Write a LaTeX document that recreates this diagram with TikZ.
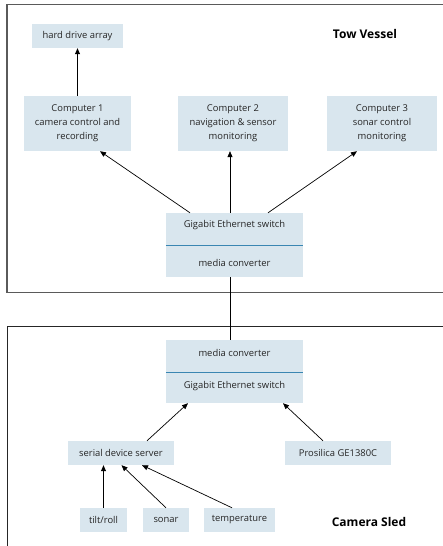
\documentclass[tikz,border=0pt]{standalone}
\usepackage{fontspec}
\setmainfont{Open Sans}
\usetikzlibrary{arrows.meta}
\definecolor{boxfill}{HTML}{D9E6EE}
\definecolor{divline}{HTML}{3A86B2}
\definecolor{framegray}{HTML}{5A5A5A}
\tikzset{
  box/.style={fill=boxfill, inner sep=0pt, align=center, font=\fontsize{9.4}{14}\selectfont, text=black!85},
  boxtext/.style={font=\fontsize{9.4}{12}\selectfont, text=black!85},
  conn/.style={draw=black, line width=0.7pt, -{Triangle[length=6pt,width=5pt]}},
  plain/.style={draw=black, line width=0.7pt},
  label/.style={font=\bfseries\fontsize{12}{14}\selectfont},
}
\begin{document}
\begin{tikzpicture}[x=1pt,y=-1pt]
\useasboundingbox (0,0) rectangle (442,546);
% frames
\draw[framegray, line width=1.8pt] (445,4.5) -- (7,4.5) -- (7,292.5) -- (445,292.5);
\draw[black!85, line width=1pt] (445,326) -- (7,326) -- (7,550);
% tow vessel
\node[box, minimum width=91pt, minimum height=24pt] (hdd) at (77.5,36) {hard drive array};
\node[label] (tow) at (365,34) {Tow Vessel};
\node[box, minimum width=107pt, minimum height=55pt] (c1) at (77.5,123.5) {Computer 1\\camera control and\\recording};
\node[box, minimum width=110pt, minimum height=55pt] (c2) at (233,123.5) {Computer 2\\navigation \& sensor\\monitoring};
\node[box, minimum width=110pt, minimum height=55pt] (c3) at (382,123.5) {Computer 3\\sonar control\\monitoring};
\node[box, minimum width=137pt, minimum height=64pt] (sw1) at (234.5,245) {};
\node[boxtext] (sw1a) at (234.5,225.5) {Gigabit Ethernet switch};
\node[boxtext] (sw1b) at (234.5,262.5) {media converter};
\draw[divline, line width=0.9pt] (sw1.west |- 0,245) -- (sw1.east |- 0,245);
% camera sled
\node[box, minimum width=137pt, minimum height=63pt] (sw2) at (234.5,371.5) {};
\node[boxtext] (sw2a) at (234.5,352.5) {media converter};
\node[boxtext] (sw2b) at (234.5,386.5) {Gigabit Ethernet switch};
\draw[divline, line width=0.9pt] (sw2.west |- 0,372) -- (sw2.east |- 0,372);
\node[box, minimum width=106pt, minimum height=24pt] (sds) at (121,453) {serial device server};
\node[box, minimum width=106pt, minimum height=24pt] (pros) at (338,453) {Prosilica GE1380C};
\node[box, minimum width=47pt, minimum height=24pt] (tilt) at (103.5,520) {tilt/roll};
\node[box, minimum width=46pt, minimum height=24pt] (sonar) at (166,520) {sonar};
\node[box, minimum width=71pt, minimum height=24pt] (temp) at (239.5,520) {temperature};
\node[label] (sled) at (369,522) {Camera Sled};
% connectors
\draw[conn] (c1.north -| hdd.south) -- (hdd.south);
\draw[conn] ([xshift=-44.5pt]sw1.north) -- ([xshift=22.5pt]c1.south);
\draw[conn] ([xshift=-4.5pt]sw1.north) -- ([xshift=-3pt]c2.south);
\draw[conn] ([xshift=33.5pt]sw1.north) -- ([xshift=-25pt]c3.south);
\draw[plain] ([xshift=-4.5pt]sw1.south) -- ([xshift=-4.5pt]sw2.north);
\draw[conn] ([xshift=26pt]sds.north) -- ([xshift=-46.5pt]sw2.south);
\draw[conn] ([xshift=-15pt]pros.north) -- ([xshift=48.5pt]sw2.south);
\draw[conn] (tilt.north) -- (tilt.north |- sds.south);
\draw[conn] (sonar.north) -- ([xshift=0.5pt]sds.south);
\draw[conn] ([xshift=-7.5pt]temp.north) -- ([xshift=21pt]sds.south);
\end{tikzpicture}
\end{document}
